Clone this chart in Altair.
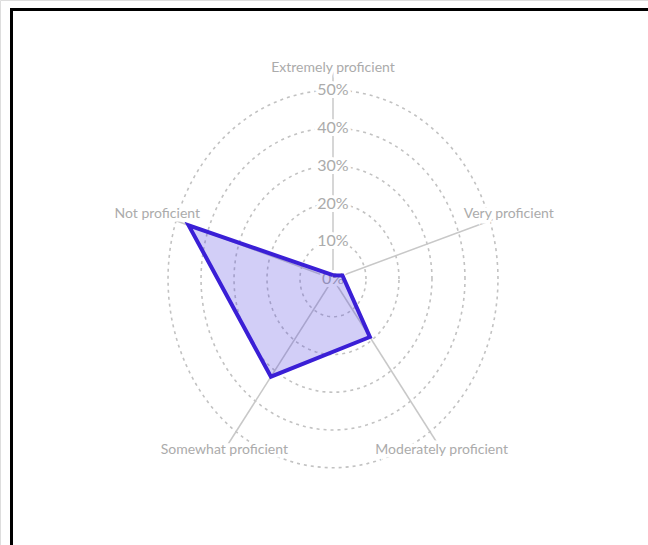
import altair as alt
import pandas as pd

# Proficiency levels, clockwise from the top spoke, and the share of respondents (%)
categories = [
    "Extremely proficient",
    "Very proficient",
    "Moderately proficient",
    "Somewhat proficient",
    "Not proficient",
]
shares = [1, 3, 19, 32, 46]

# Radial grid
ring_levels = [10, 20, 30, 40, 50]
tick_values = [0, 10, 20, 30, 40, 50]
tick_labels = ["0%", "10%", "20%", "30%", "40%", "50%"]

N = len(categories)
LABEL_R = 56  # radius (in %) where spokes end and category labels sit

W, H = 648, 545
# Linear scales in "percent" units; pixel density differs per axis (33 px vs 37.75 px per 10%)
xs = alt.Scale(domain=[-333 / 3.3, (W - 333) / 3.3], nice=False, zero=False)
ys = alt.Scale(domain=[-(H - 279) / 3.775, 279 / 3.775], nice=False, zero=False)

GRID = "#c2c2c2"
SPOKE = "#c8c8c8"
TEXT = "#ababab"
FONT = "Lato"

# closed polygon: repeat the first vertex at the end
poly_df = pd.DataFrame({
    "idx": list(range(N)) + [0],
    "ord": list(range(N + 1)),
    "share": shares + [shares[0]],
})
spoke_df = pd.DataFrame({"idx": list(range(N)), "category": categories})
ring_df = pd.DataFrame({"level": ring_levels})
tick_df = pd.DataFrame({"v": tick_values, "label": tick_labels})

ANG = "PI/2 - datum.idx*2*PI/%d" % N

rings = (
    alt.Chart(ring_df)
    .transform_calculate(deg="sequence(0, 361, 3)")
    .transform_flatten(["deg"])
    .transform_calculate(
        px="datum.level*cos(datum.deg*PI/180)",
        py="datum.level*sin(datum.deg*PI/180)",
    )
    .mark_line(color=GRID, strokeWidth=1.6, strokeDash=[3, 4])
    .encode(
        x=alt.X("px:Q", scale=xs, axis=None),
        y=alt.Y("py:Q", scale=ys, axis=None),
        detail="level:N",
        order="deg:Q",
    )
)

spokes = (
    alt.Chart(spoke_df)
    .transform_calculate(ang=ANG)
    .transform_calculate(
        x0="0", y0="0",
        x1="%d*cos(datum.ang)" % LABEL_R,
        y1="%d*sin(datum.ang)" % LABEL_R,
    )
    .mark_rule(color=SPOKE, strokeWidth=1.5)
    .encode(
        x=alt.X("x0:Q", scale=xs, axis=None),
        y=alt.Y("y0:Q", scale=ys, axis=None),
        x2="x1:Q",
        y2="y1:Q",
    )
)

def ticks(halo):
    kw = dict(stroke="white", strokeWidth=6, fill="white") if halo else dict(color=TEXT)
    return (
        alt.Chart(tick_df)
        .transform_calculate(x0="0")
        .mark_text(font=FONT, fontSize=16, align="center", baseline="middle", **kw)
        .encode(
            x=alt.X("x0:Q", scale=xs, axis=None),
            y=alt.Y("v:Q", scale=ys, axis=None),
            text="label:N",
        )
    )

polygon = (
    alt.Chart(poly_df)
    .transform_calculate(ang=ANG)
    .transform_calculate(
        px="datum.share*cos(datum.ang)",
        py="datum.share*sin(datum.ang)",
    )
    .mark_line(
        stroke="#3a1fd6",
        strokeWidth=4,
        fill="#4a3be0",
        fillOpacity=0.25,
        strokeJoin="miter",
    )
    .encode(
        x=alt.X("px:Q", scale=xs, axis=None),
        y=alt.Y("py:Q", scale=ys, axis=None),
        order="ord:Q",
    )
)

def cat_labels(halo):
    kw = dict(stroke="white", strokeWidth=7, fill="white") if halo else dict(color=TEXT)
    return (
        alt.Chart(spoke_df)
        .transform_calculate(ang=ANG)
        .transform_calculate(
            lx="%d*cos(datum.ang)" % LABEL_R,
            ly="%d*sin(datum.ang)" % LABEL_R,
        )
        .mark_text(font=FONT, fontSize=14, align="center", baseline="middle", **kw)
        .encode(
            x=alt.X("lx:Q", scale=xs, axis=None),
            y=alt.Y("ly:Q", scale=ys, axis=None),
            text="category:N",
        )
    )

# frame edges along the top and left
frame_top = alt.Chart(tick_df).mark_rule(color="black", strokeWidth=3).encode(
    x=alt.value(10), x2=alt.value(W), y=alt.value(9.5)
)
frame_left = alt.Chart(tick_df).mark_rule(color="black", strokeWidth=3).encode(
    x=alt.value(11.5), y=alt.value(8), y2=alt.value(H)
)

chart = (
    alt.layer(
        rings, spokes, ticks(True), ticks(False), polygon,
        cat_labels(True), cat_labels(False), frame_top, frame_left,
    )
    .properties(width=W, height=H, padding=0, autosize=alt.AutoSizeParams(type="none"))
    .configure_view(stroke=None)
    .configure(background="white")
)

chart.save("out.html", embed_options={"renderer": "svg", "actions": False})
